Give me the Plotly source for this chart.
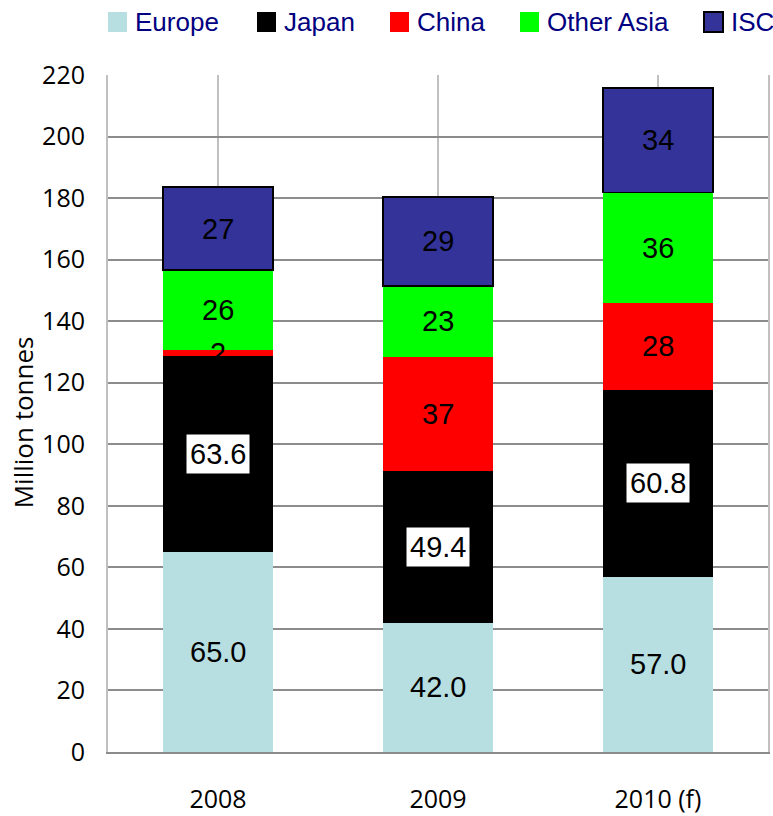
import plotly.graph_objects as go

# Steel consumption by region, million tonnes
years = ["2008", "2009", "2010 (f)"]
regions = ["Europe", "Japan", "China", "Other Asia", "ISC"]
europe = [65.0, 42.0, 57.0]
japan = [63.6, 49.4, 60.8]
china = [2, 37, 28]
other_asia = [26, 23, 36]
isc = [27, 29, 34]
series = [europe, japan, china, other_asia, isc]
label_formats = ["{:.1f}", "{:.1f}", "{:g}", "{:g}", "{:g}"]
y_ticks = list(range(0, 221, 20))

colors = ["#B7DEE1", "#000000", "#FF0000", "#00FF00", "#333399"]
outline = [0, 0, 0, 0, 1.5]
boxed = [False, True, False, False, False]

W, H = 773, 816
L, R, T, B = 108, 5, 75, 64
plot_w = W - L - R
plot_h = H - T - B

LABEL_FONT = "Liberation Sans Narrow, Liberation Sans, Arial, sans-serif"
AXIS_FONT = "Open Sans, DejaVu Sans, sans-serif"
LEGEND_FONT = "Liberation Sans, Arial, sans-serif"

fig = go.Figure()
xs = list(range(len(years)))
for name, vals, col, lw in zip(regions, series, colors, outline):
    fig.add_trace(go.Bar(
        x=xs, y=vals, name=name,
        marker=dict(color=col, line=dict(color="#000000", width=lw)),
        showlegend=False, hoverinfo="skip",
    ))

# value labels centred on each segment
annotations = []
base = [0.0] * len(years)
for vals, fmt, box in zip(series, label_formats, boxed):
    for i, v in enumerate(vals):
        annotations.append(dict(
            x=xs[i], y=base[i] + v / 2, xref="x", yref="y",
            text=fmt.format(v), showarrow=False,
            font=dict(family=LABEL_FONT, size=29, color="#000000"),
            bgcolor="#FFFFFF" if box else "rgba(0,0,0,0)",
            borderpad=3,
        ))
        base[i] += v

# y-axis title
annotations.append(dict(
    x=(23 - L) / plot_w, y=0.487, xref="paper", yref="paper",
    text="Million tonnes", textangle=-90, showarrow=False,
    xanchor="center", yanchor="middle",
    font=dict(family=AXIS_FONT, size=26, color="#000000"),
))

# legend row across the top
legend_swatch_x = [108, 257, 390, 520, 704]
swatch_w, swatch_top, swatch_bot = 19, 12, 32
shapes = []
for name, col, lw, sx in zip(regions, colors, outline, legend_swatch_x):
    shapes.append(dict(
        type="rect", xref="paper", yref="paper",
        x0=(sx - L) / plot_w, x1=(sx + swatch_w - L) / plot_w,
        y0=1 + (T - swatch_bot) / plot_h, y1=1 + (T - swatch_top) / plot_h,
        fillcolor=col, line=dict(color="#000000", width=2 if lw else 0),
    ))
    annotations.append(dict(
        x=(sx + swatch_w + 6 - L) / plot_w, y=1 + (T - 22) / plot_h,
        xref="paper", yref="paper", text=name, showarrow=False,
        xanchor="left", yanchor="middle",
        font=dict(family=LEGEND_FONT, size=26, color="#000080"),
    ))

fig.update_layout(
    width=W, height=H,
    margin=dict(l=L, r=R, t=T, b=B, autoexpand=False),
    barmode="stack", bargap=0.5,
    plot_bgcolor="#FFFFFF", paper_bgcolor="#FFFFFF",
    annotations=annotations, shapes=shapes,
    showlegend=False,
)
fig.update_xaxes(
    tickmode="array", tickvals=xs, ticktext=years,
    range=[-0.5, len(years) - 0.5],
    tickson="boundaries", showgrid=True, gridcolor="#C0C0C0", gridwidth=2,
    ticks="", ticklabelstandoff=24,
    showline=True, linecolor="#8C8C8C", linewidth=2,
    tickfont=dict(family=AXIS_FONT, size=25, color="#000000"),
    fixedrange=True,
)
fig.update_yaxes(
    range=[0, 220], tickvals=y_ticks,
    showgrid=True, gridcolor="#8C8C8C", gridwidth=2,
    zeroline=False, ticks="", ticklabelstandoff=16,
    showline=True, mirror=True, linecolor="#C0C0C0", linewidth=2,
    tickfont=dict(family=AXIS_FONT, size=25, color="#000000"),
    fixedrange=True,
)

fig.write_html("out.html")
